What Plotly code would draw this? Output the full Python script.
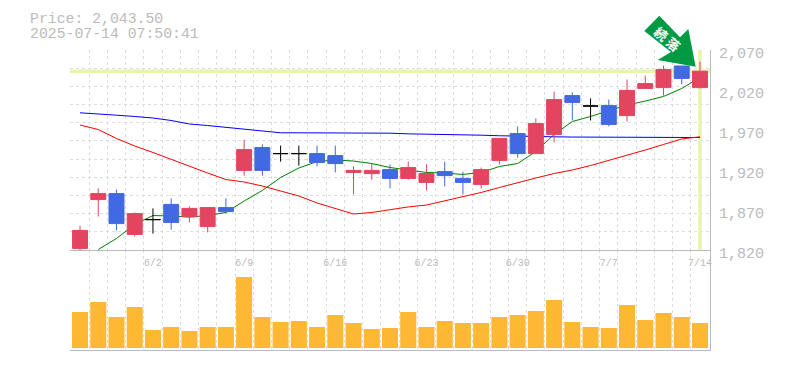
import plotly.graph_objects as go

dates = ["5/27","5/28","5/29","5/30","6/2","6/3","6/4","6/5","6/6","6/9","6/10","6/11","6/12","6/13","6/16","6/17","6/18","6/19","6/20","6/23","6/24","6/25","6/26","6/27","6/30","7/1","7/2","7/3","7/4","7/7","7/8","7/9","7/10","7/11","7/14"]
tick_dates = ["6/2","6/9","6/16","6/23","6/30","7/7","7/14"]
opens  = [1822,1883,1890.5,1839.5,1858,1877,1861.5,1849.5,1873,1919.5,1948,1940.5,1940.5,1940.5,1938,1917,1915.5,1920.5,1909.5,1904.5,1918,1909.5,1902,1932,1965.5,1940.5,1964.5,2013,2000,2000.5,1988,2022,2023,2050,2023]
highs  = [1850.5,1897,1895.5,1867,1872,1884.5,1874.5,1873,1884.5,1958,1952,1950.5,1950.5,1950.5,1950.5,1924.5,1928,1927,1930.5,1927,1930.5,1918,1923,1959.5,1974.5,1984.5,2018,2017,2009.5,2008,2033,2038,2050.5,2050,2055.5]
lows   = [1820,1862,1844.5,1837,1840.5,1845.5,1854.5,1842,1865.5,1913,1913,1930.5,1925.5,1924.5,1917,1889.5,1908,1897,1908,1894.5,1899.5,1889.5,1897,1927,1935.5,1940.5,1954.5,1982,1982,1974.5,1980.5,2022,2013,2027,2022]
closes = [1844.5,1890.5,1853,1865.5,1858,1854.5,1872,1873,1868,1945.5,1919.5,1940.5,1940.5,1929.5,1928,1919.5,1919.5,1909.5,1923,1915.5,1913,1904.5,1920.5,1959.5,1940.5,1978,2008,2004.5,2000,1977,2019.5,2028,2045.5,2034.5,2043.5]
ma_short = [None,1820.6,1834.4,1851.9,1863.1,1862.5,1861.2,1863.1,1866.9,1881.2,1894.4,1910.6,1922.5,1930.6,1932.5,1931.2,1928.1,1923.1,1920,1916.9,1916.2,1914.4,1916.9,1924.4,1928.1,1943.1,1964.4,1980.6,1986.9,1994.4,2001.2,2006.2,2011.9,2021.9,2035.6]
ma_mid = [1976.2,1970.6,1959.4,1950,1941.9,1933.1,1924.4,1916.2,1908.1,1905,1900,1893.8,1887.5,1878.8,1871.9,1865,1866.9,1870.6,1873.8,1876.2,1881.2,1886.2,1891.9,1898.1,1904.4,1910,1915.6,1920,1925.6,1931.9,1938.1,1945,1951.9,1958.8,1961.5]
ma_long = [1991.5,1989.6,1988.5,1986.9,1985,1981.9,1977.5,1975.6,1973.1,1970.6,1968.1,1966.5,1966.5,1966.5,1966.5,1966.5,1966.5,1966,1965.2,1965,1964.4,1964,1963.5,1962.8,1962.1,1961.9,1961.5,1961.2,1961,1961,1960.9,1960.9,1960.8,1960.8,1960.6]
volumes = [36,46,31,41,18,21,17,21,21,71,31,26,27,21,33,25,19,20,36,21,27,25,25,31,33,37,48,26,21,20,43,28,35,31,25]
price_ticks = [1820,1870,1920,1970,2020,2070]
last_price = 2043.5

RED, BLUE, BLACK = "#e34460", "#4169e1", "#000000"
GRAY, GRID, BAND = "#bbbbbb", "#dddddd", "#e6f5ab"
XR = [-0.55, 34.55]
YR = [1820, 2070]
FONT = "Liberation Mono"
idx = list(range(len(dates)))

def pick(test):
    s = [i for i in idx if test(i)]
    return dict(x=s, open=[opens[i] for i in s], high=[highs[i] for i in s],
                low=[lows[i] for i in s], close=[closes[i] for i in s])

def candle(sel, color):
    side = dict(line=dict(color=color, width=1), fillcolor=color)
    return go.Candlestick(**sel, increasing=side, decreasing=side, whiskerwidth=0,
                          xaxis="x2", yaxis="y3", showlegend=False, hoverinfo="skip")

fig = go.Figure()
fig.add_trace(go.Bar(x=idx, y=volumes, width=0.88, marker=dict(color="#ffb833", line_width=0),
                     xaxis="x", yaxis="y2", showlegend=False))
fig.add_trace(go.Scatter(x=XR, y=[last_price, last_price], mode="lines", line=dict(color=BAND, width=3.5),
                         xaxis="x2", yaxis="y", showlegend=False))
fig.add_trace(go.Scatter(x=[idx[-1], idx[-1]], y=YR, mode="lines", line=dict(color=BAND, width=3.5),
                         xaxis="x2", yaxis="y", showlegend=False))
for vals, col in [(ma_long, "#0000ff"), (ma_mid, "#ff0000"), (ma_short, "#008000")]:
    fig.add_trace(go.Scatter(x=idx, y=vals, mode="lines", line=dict(color=col, width=1),
                             xaxis="x2", yaxis="y", showlegend=False))
fig.add_trace(candle(pick(lambda i: closes[i] > opens[i]), RED))
fig.add_trace(candle(pick(lambda i: closes[i] < opens[i]), BLUE))
fig.add_trace(candle(pick(lambda i: closes[i] == opens[i]), BLACK))

def vgrid():
    return dict(showgrid=True, gridcolor=GRID, griddash="3px,3px", gridwidth=1,
                tick0=-0.5, dtick=1, ticks="")

def px(x, y):
    return f"{(x - 70) / 640:.5f} {(350 - y) / 300:.5f}"

arrow = [(659.3, 15.7), (644.3, 31), (671, 52), (657.7, 60), (695.7, 66.7), (688.3, 29), (680, 37.3)]
arrow_path = "M " + " L ".join(px(*p) for p in arrow) + " Z"

fig.update_layout(
    width=785, height=370, margin=dict(l=70, r=75, t=50, b=20, autoexpand=False),
    paper_bgcolor="white", plot_bgcolor="white", boxmode="overlay", boxgap=0.18, boxgroupgap=0,
    bargap=0.12, dragmode=False,
    xaxis=dict(domain=[0, 1], anchor="y2", range=XR, showticklabels=False, ticks="", showgrid=False,
               zeroline=False, showline=True, linecolor=GRAY, linewidth=1, minor=vgrid()),
    xaxis2=dict(domain=[0, 1], anchor="y", range=XR, showgrid=False, zeroline=False, showline=True,
                linecolor=GRAY, linewidth=1, ticks="", tickmode="array",
                tickvals=[dates.index(d) for d in tick_dates], ticktext=tick_dates,
                tickfont=dict(family=FONT, size=10, color=GRAY), tickangle=0, ticklabelstandoff=3,
                rangeslider=dict(visible=False), minor=vgrid()),
    yaxis=dict(domain=[1 / 3, 1], anchor="x2", side="right", range=YR, tickmode="array",
               tickvals=price_ticks, ticktext=[f"{v:,}" for v in price_ticks], showgrid=False,
               tickfont=dict(family=FONT, size=15, color=GRAY), ticks="", ticklabelstandoff=5,
               ticklabelshift=3, zeroline=False, showline=True, linecolor=GRAY, linewidth=1,
               minor=dict(showgrid=True, gridcolor=GRID, griddash="3px,3px", gridwidth=1,
                          tick0=1820, dtick=250 / 11, ticks="")),
    yaxis2=dict(domain=[0, 1 / 3], anchor="x", side="right", range=[-2, 98], showticklabels=False,
                showgrid=False, zeroline=False, ticks="", showline=True, linecolor=GRAY, linewidth=1),
    yaxis3=dict(overlaying="y", anchor="x2", side="right", range=YR, showticklabels=False,
                showgrid=False, zeroline=False, ticks=""),
    shapes=[dict(type="path", xref="paper", yref="paper", path=arrow_path, fillcolor="#009944",
                 line_width=0, layer="above")],
    annotations=[
        dict(text=f"Price: {last_price:,.2f}", xref="paper", yref="paper", x=-42 / 640, y=(350 - 19) / 300,
             xanchor="left", yanchor="middle", showarrow=False, font=dict(family=FONT, size=14.8, color=GRAY)),
        dict(text="2025-07-14 07:50:41", xref="paper", yref="paper", x=-42 / 640, y=(350 - 34) / 300,
             xanchor="left", yanchor="middle", showarrow=False, font=dict(family=FONT, size=14.8, color=GRAY)),
        dict(text="<b>続 落</b>", xref="paper", yref="paper", x=(667 - 70) / 640, y=(350 - 38.5) / 300,
             xanchor="center", yanchor="middle", showarrow=False, textangle=40,
             font=dict(family="Noto Sans CJK JP", size=13, color="white")),
    ],
)
fig.write_html("out.html", config=dict(displayModeBar=False, staticPlot=True),
               post_script="document.body.style.margin='0';")
